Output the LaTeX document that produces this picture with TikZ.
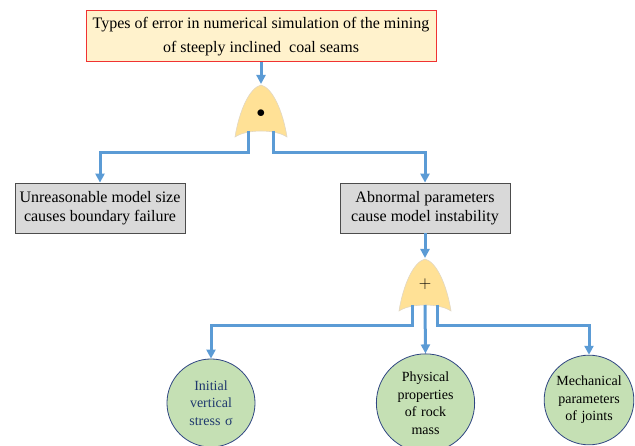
\documentclass[tikz,border=0pt]{standalone}
\usepackage{fontspec}
\setmainfont{Liberation Serif}
\usepackage{xcolor}
\usepackage{tikz}
\usetikzlibrary{arrows.meta,positioning,calc}
\definecolor{flowblue}{RGB}{91,155,213}
\definecolor{topfill}{RGB}{255,242,204}
\definecolor{topedge}{RGB}{240,50,50}
\definecolor{boxfill}{RGB}{217,217,217}
\definecolor{gatefill}{RGB}{255,225,150}
\definecolor{gateedge}{RGB}{225,215,195}
\definecolor{leaffill}{RGB}{197,224,180}
\definecolor{leafedge}{RGB}{47,70,130}
\definecolor{navy}{RGB}{31,56,110}

\begin{document}
\begin{tikzpicture}[
    x=1pt,y=-1pt,
    font=\fontsize{16}{23.5}\selectfont,
    topbox/.style={draw=topedge,line width=1pt,fill=topfill,align=center,
        minimum width=350pt,minimum height=51pt,inner sep=2pt},
    midbox/.style={draw=black!70,line width=0.8pt,fill=boxfill,align=center,
        minimum width=170pt,minimum height=50pt,inner sep=2pt,
        font=\fontsize{16}{19.5}\selectfont},
    leaf/.style={circle,draw=leafedge,line width=0.8pt,fill=leaffill,
        minimum size=88pt,inner sep=0pt,align=center,text width=76pt,
        font=\fontsize{14}{17.5}\selectfont},
    arrow/.style={-{Triangle[length=9pt,width=9pt]},line width=3pt,draw=flowblue},
    gate/.pic={
        \draw[fill=gatefill,draw=gateedge,line width=0.6pt]
            (-26,27) .. controls (-22,2) and (-12,-22) .. (0,-25)
            .. controls (12,-22) and (22,2) .. (26,27)
            .. controls (14,19) and (-14,19) .. cycle;
        \coordinate (-top) at (0,-26);
        \coordinate (-l) at (-13,21);
        \coordinate (-m) at (0,21);
        \coordinate (-r) at (12,21);
    }
]
\useasboundingbox (0,0) rectangle (635,446);

\node[topbox] (top) at (261,36.5) {Types of error in numerical simulation of the mining\\of steeply inclined\ \ coal seams};

\pic (andg) at (261,110) {gate};
\node[inner sep=0pt] (anddot) at (261,114) {$\bullet$};

\node[midbox] (size) at (100,208) {Unreasonable model size\\causes boundary failure};
\node[midbox] (param) at (425,208) {Abnormal parameters\\cause model instability};

\pic (org) at (425,284) {gate};
\node[inner sep=0pt] (orplus) at (425,284) {$+$};

\node[leaf,text=navy] (stress) at (211,403) {Initial\\vertical\\stress σ};
\node[leaf] (rock) at (425.5,403) {Physical\\properties\\of rock\\mass};
\node[leaf] (joint) at (589,400) {Mechanical\\parameters\\of joints};

\draw[arrow] (top.south) -- (andg-top);
\draw[arrow] (andg-l) -- ++(0,22) -| (size.north);
\draw[arrow] (andg-r) -- ++(0,22) -| (param.north);
\draw[arrow] (param.south) -- (org-top);
\draw[arrow] (org-l) -- ++(0,21) -| (stress.north);
\draw[arrow] (org-m) -- (rock.north);
\draw[arrow] (org-r) -- ++(0,21) -| (joint.north);
\end{tikzpicture}
\end{document}
